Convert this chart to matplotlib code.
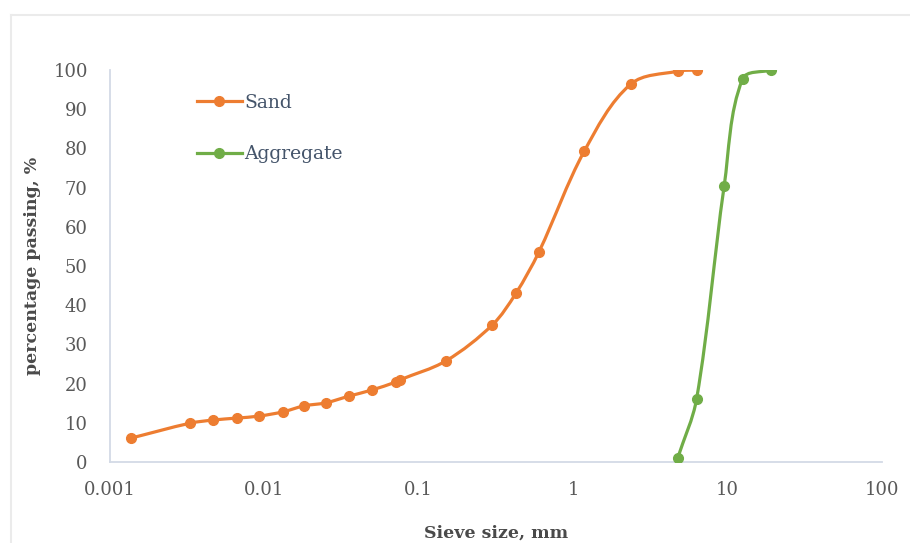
import numpy as np
import matplotlib
matplotlib.use("Agg")
import matplotlib.pyplot as plt
from matplotlib.path import Path
from matplotlib.patches import PathPatch
from matplotlib.lines import Line2D

# ---- data ----
sand_size = [0.00137, 0.0033, 0.00465, 0.0066, 0.0092, 0.0132, 0.018, 0.025,
             0.0353, 0.050, 0.071, 0.075, 0.15, 0.30, 0.425, 0.60, 1.18, 2.36, 4.75, 6.3]
sand_pass = [6.1, 9.9, 10.7, 11.2, 11.7, 12.8, 14.3, 15.1,
             16.8, 18.4, 20.4, 20.9, 25.8, 35.0, 43.0, 53.6, 79.3, 96.4, 99.7, 100.0]
agg_size = [4.75, 6.3, 9.5, 12.5, 19.0]
agg_pass = [1.0, 16.1, 70.4, 97.7, 100.0]
series_names = ["Sand", "Aggregate"]
x_ticks = [0.001, 0.01, 0.1, 1, 10, 100]
x_ticklabels = ["0.001", "0.01", "0.1", "1", "10", "100"]
y_ticks = list(range(0, 101, 10))

ORANGE = "#ED7D31"
GREEN = "#70AD47"
FONT = "DejaVu Serif"

W, H = 910, 543
AX_L, AX_R, AX_T, AX_B = 110, 882, 70, 462
fig = plt.figure(figsize=(W / 100, H / 100), dpi=100)
ax = fig.add_axes([AX_L / W, 1 - AX_B / H, (AX_R - AX_L) / W, (AX_B - AX_T) / H])
ax.set_xscale("log")
ax.set_xlim(0.001, 100)
ax.set_ylim(0, 100)

# pixel scale factors (for a display-space smoothing like Excel's)
SX = (AX_R - AX_L) / 5.0     # px per decade
SY = (AX_B - AX_T) / 100.0   # px per unit


def smooth_path(xs, ys):
    """Smoothed Bezier path: unit tangents, handle length = segment length / 3
    (computed in display-proportional space)."""
    px = np.log10(np.asarray(xs, float)) * SX
    py = np.asarray(ys, float) * SY
    P = np.column_stack([px, py])
    n = len(P)
    T = np.zeros_like(P)
    for i in range(n):
        a = P[max(i - 1, 0)]
        b = P[min(i + 1, n - 1)]
        d = b - a
        T[i] = d / np.hypot(*d)
    verts = [(xs[0], ys[0])]
    codes = [Path.MOVETO]
    for i in range(n - 1):
        L = np.hypot(*(P[i + 1] - P[i])) / 3.0
        c1 = P[i] + T[i] * L
        c2 = P[i + 1] - T[i + 1] * L
        for c in (c1, c2):
            verts.append((10 ** (c[0] / SX), c[1] / SY))
        verts.append((xs[i + 1], ys[i + 1]))
        codes += [Path.CURVE4] * 3
    return Path(verts, codes)


for xs, ys, col in [(sand_size, sand_pass, ORANGE), (agg_size, agg_pass, GREEN)]:
    patch = PathPatch(smooth_path(xs, ys), facecolor="none", edgecolor=col,
                      lw=2.3, zorder=3, capstyle="round")
    ax.add_patch(patch)
    ax.plot(xs, ys, linestyle="none", marker="o", ms=7, color=col, zorder=4)

# axes styling
for s in ["top", "right"]:
    ax.spines[s].set_visible(False)
for s in ["left", "bottom"]:
    ax.spines[s].set_color("#D3DAE6")
    ax.spines[s].set_linewidth(1.3)
ax.set_xticks(x_ticks)
ax.set_xticklabels(x_ticklabels)
ax.xaxis.set_minor_locator(matplotlib.ticker.NullLocator())
ax.set_yticks(y_ticks)
ax.tick_params(axis="both", length=0, labelsize=13, labelcolor="#595959")
ax.tick_params(axis="x", pad=14)
ax.tick_params(axis="y", pad=16)
for lab in ax.get_xticklabels() + ax.get_yticklabels():
    lab.set_fontfamily(FONT)

ax.set_xlabel("Sieve size, mm", fontfamily=FONT, fontweight="bold",
              fontsize=12.5, color="#4A4A4A", labelpad=18)
ax.set_ylabel("percentage passing, %", fontfamily=FONT, fontweight="bold",
              fontsize=12.5, color="#4A4A4A", labelpad=9)

handles = [Line2D([], [], color=ORANGE, lw=2.3, marker="o", ms=7),
           Line2D([], [], color=GREEN, lw=2.3, marker="o", ms=7)]
leg = ax.legend(handles, series_names, loc="upper left",
                bbox_to_anchor=((189 - AX_L) / (AX_R - AX_L), 1 - (86 - AX_T) / (AX_B - AX_T)),
                frameon=False, handlelength=2.4, handletextpad=0.15,
                labelspacing=1.8, prop={"family": FONT, "size": 13.5},
                borderaxespad=0)
for t in leg.get_texts():
    t.set_color("#44546A")

# faint chart-area border
fig.add_artist(Line2D([11 / W, 11 / W], [0, 1 - 15 / H], transform=fig.transFigure,
                      color="#EBEBEB", lw=1.5))
fig.add_artist(Line2D([11 / W, 1], [1 - 15 / H, 1 - 15 / H], transform=fig.transFigure,
                      color="#EBEBEB", lw=1.5))

fig.savefig("out.png", dpi=100)
